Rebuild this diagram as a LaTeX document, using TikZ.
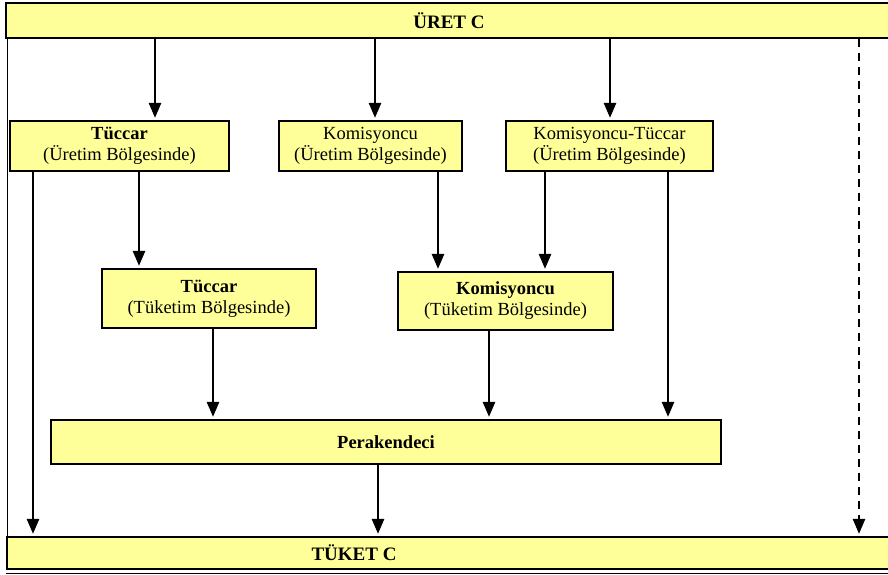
\documentclass[tikz,border=0pt]{standalone}
\usepackage{fontspec}
\setmainfont{Liberation Serif}
\usetikzlibrary{arrows.meta,shadows}
\definecolor{boxyellow}{RGB}{255,255,153}
\begin{document}
\begin{tikzpicture}[x=1pt,y=-1pt,
  box/.style={draw, fill=boxyellow, line width=1.5pt, align=center, inner sep=0pt,
    font=\fontsize{18.5}{21}\selectfont,
    drop shadow={shadow xshift=1.2pt, shadow yshift=-1.2pt, fill=black!30, opacity=1}},
  arr/.style={line width=1.4pt, -{Triangle[width=12.5pt,length=15pt]}, shorten >=2.5pt},
  edge/.style={font=\bfseries\fontsize{19}{22}\selectfont}]
\useasboundingbox (0,0) rectangle (888,574);
\fill[white] (0,0) rectangle (888,574);

% top and bottom bars
\node[box, edge, minimum width=886pt, minimum height=35pt] (uret) at (449,20.5) {ÜRET C};
\node[box, minimum width=886pt, minimum height=32pt] (tuket) at (450,553) {};
\node[edge] (tuketlbl) at (354,553) {TÜKET C};
\draw[line width=0.9pt] ([yshift=-3.2pt]tuket.south west) -- ([yshift=-3.2pt]tuket.south east);

% boxes
\node[box, minimum width=219pt, minimum height=50pt] (tu1) at (119.5,146) {\textbf{Tüccar}\\(Üretim Bölgesinde)};
\node[box, minimum width=183pt, minimum height=50pt] (ko1) at (370.5,146) {Komisyoncu\\(Üretim Bölgesinde)};
\node[box, minimum width=207pt, minimum height=50pt] (kt1) at (609.5,146) {Komisyoncu-Tüccar\\(Üretim Bölgesinde)};
\node[box, minimum width=214pt, minimum height=59pt] (tu2) at (209,298.5) {\textbf{Tüccar}\\(Tüketim Bölgesinde)};
\node[box, minimum width=215pt, minimum height=58pt] (ko2) at (505.5,301) {\textbf{Komisyoncu}\\(Tüketim Bölgesinde)};
\node[box, minimum width=670pt, minimum height=44pt, font=\bfseries\fontsize{18.5}{21}\selectfont] (per) at (386,442) {Perakendeci};

% frame line on the left
\draw[line width=1.1pt] (7.5,0 |- uret.south) -- (7.5,0 |- tuket.north);

% connectors
\draw[arr] (155,0 |- uret.south) -- (155,0 |- tu1.north);
\draw[arr] (375,0 |- uret.south) -- (375,0 |- ko1.north);
\draw[arr] (610,0 |- uret.south) -- (610,0 |- kt1.north);
\draw[arr, dash pattern=on 8pt off 6pt] (859,0 |- uret.south) -- (859,0 |- tuket.north);

\draw[arr] (33,0 |- tu1.south) -- (33,0 |- tuket.north);
\draw[arr] (139,0 |- tu1.south) -- (139,0 |- tu2.north);
\draw[arr] (438,0 |- ko1.south) -- (438,0 |- ko2.north);
\draw[arr] (545,0 |- kt1.south) -- (545,0 |- ko2.north);
\draw[arr] (668,0 |- kt1.south) -- (668,0 |- per.north);
\draw[arr] (213,0 |- tu2.south) -- (213,0 |- per.north);
\draw[arr] (489,0 |- ko2.south) -- (489,0 |- per.north);
\draw[arr] (378,0 |- per.south) -- (378,0 |- tuket.north);
\end{tikzpicture}
\end{document}
